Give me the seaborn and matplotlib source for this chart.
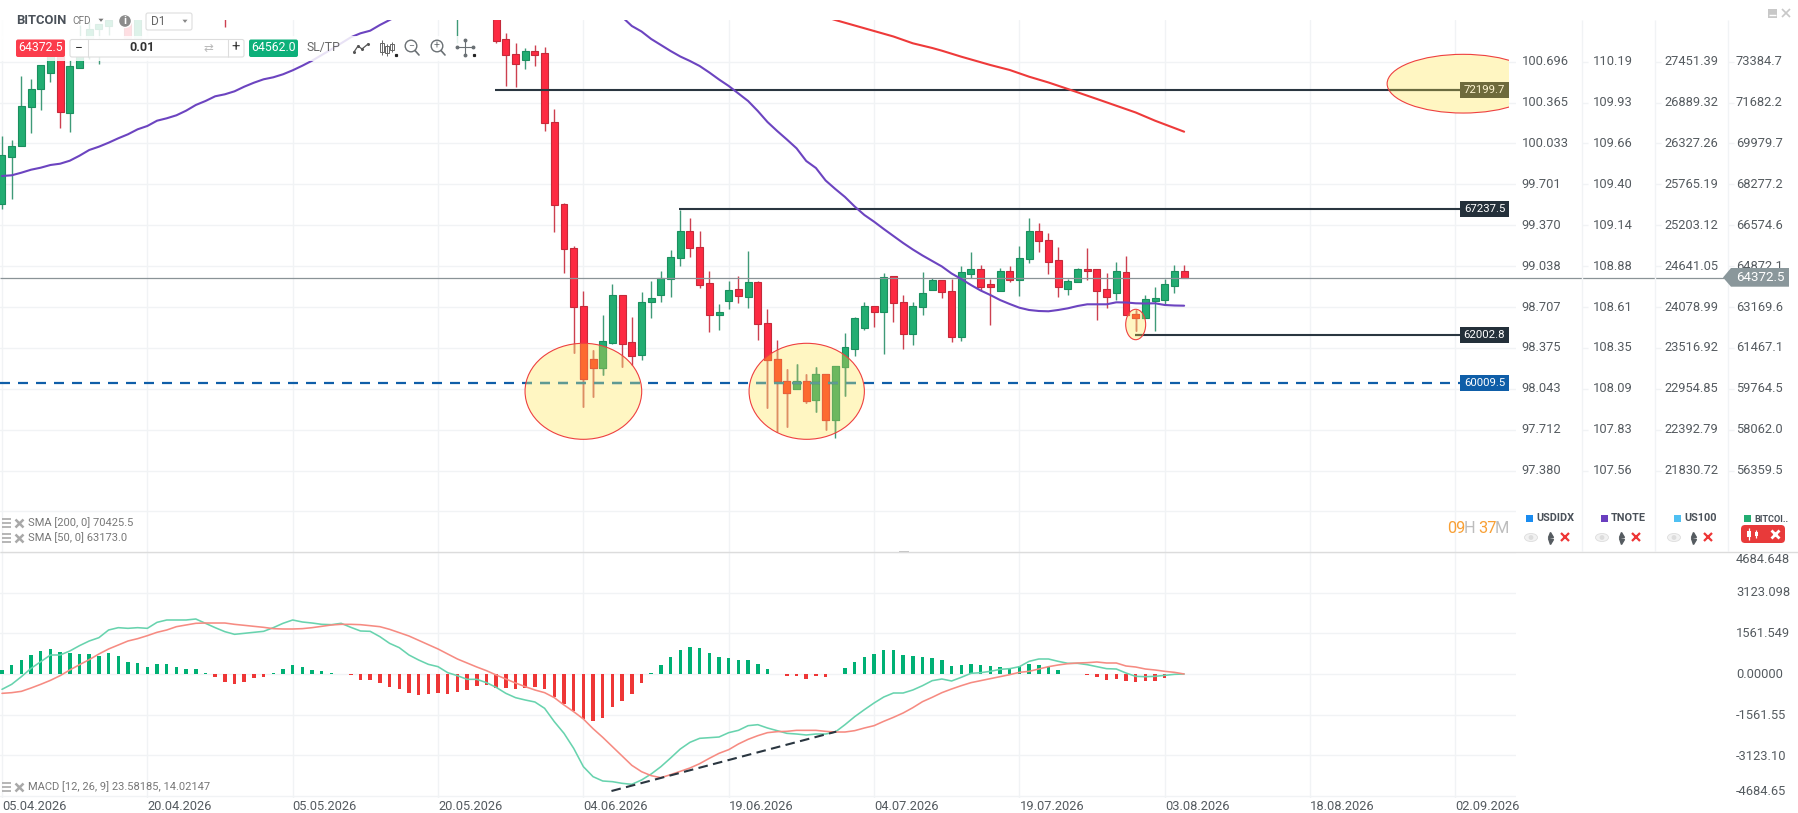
import matplotlib
matplotlib.use('Agg')
import matplotlib.pyplot as plt
from matplotlib.patches import Ellipse, Rectangle, Polygon, Circle, FancyBboxPatch
from matplotlib.transforms import blended_transform_factory
import pandas as pd
import seaborn as sns

W, H = 1798, 813

# candles (days since 05.04.2026), the ones above the visible range are left out
candle_days = [0, 1, 2, 3, 4, 5, 6, 7, 8, 9, 10, 11, 13, 14, 23, 47] + list(range(51, 123))
open_px = [67460, 69429, 69875, 71486, 72235, 72902, 73871, 71236, 73110, 74288, 74733, 74883, 75329, 74359, 75600, 75500,
           75329, 74329, 73692, 73443, 73830, 73734, 70887, 67460, 65641, 63214, 61008, 60621, 61661, 63672, 61703, 61187,
           63368, 63685, 64338, 65212, 66324, 65683, 64172, 62827, 63435, 63909, 63601, 64213, 62519, 61008, 60104, 59759,
           60092, 59301, 60371, 58481, 60687, 61411, 62311, 63202, 62977, 64451, 63381, 62061, 63160, 63893, 64297, 63839,
           61924, 64559, 64755, 64118, 63851, 64684, 64297, 65158, 66324, 65949, 65129, 63934, 64201, 64755, 64767, 63909,
           63743, 64630, 62881, 62702, 63435, 63464, 64059, 64671]
high_px = [70304, 70125, 72789, 72652, 73235, 74288, 74080, 73455, 74912, 75037, 74941, 75204, 75400, 75400, 75700, 75700,
           75400, 74579, 74163, 73955, 74080, 74009, 71415, 67502, 65712, 63851, 61382, 62852, 64130, 63672, 62756, 63809,
           64267, 64684, 65545, 67211, 66890, 66336, 64684, 63310, 64267, 64463, 65504, 64255, 63077, 61799, 60604, 60800,
           60371, 60662, 60371, 60729, 62078, 62744, 63368, 63202, 64575, 64451, 63672, 63393, 64630, 64367, 64297, 64326,
           64879, 65462, 64908, 64326, 64796, 64879, 65712, 66878, 66657, 66241, 65683, 64326, 64809, 65641, 64767, 64588,
           65046, 65283, 63048, 63672, 63993, 64326, 64921, 64921]
low_px = [67252, 67669, 69875, 70429, 71374, 72527, 70612, 70470, 73110, 73484, 73276, 74496, 74359, 74359, 74846, 74163,
          74163, 72385, 72344, 73068, 73205, 70512, 66307, 64600, 61270, 59022, 59438, 60342, 61632, 60687, 60758, 60966,
          62727, 63368, 63601, 64879, 65242, 63964, 62132, 62228, 63089, 63352, 63143, 61799, 58968, 57981, 58189, 59759,
          59164, 58789, 58052, 57707, 59480, 61133, 62228, 62353, 61216, 62536, 61437, 61578, 62852, 63860, 63560, 61716,
          61770, 64367, 63880, 62411, 63826, 64201, 63643, 65017, 65475, 64559, 63601, 63685, 64201, 64284, 62644, 63143,
          63464, 62840, 62186, 62702, 62186, 63256, 63768, 64367]
close_px = [69488, 69888, 71540, 72235, 73235, 73663, 71303, 73205, 73871, 74733, 74941, 75120, 74359, 75329, 75500, 75600,
            74259, 73676, 73301, 73830, 73676, 70845, 67419, 65575, 63160, 60175, 60621, 61745, 63672, 61632, 61133, 63393,
            63535, 64380, 65267, 66324, 65616, 64101, 62827, 62952, 63893, 63643, 64213, 62465, 60966, 60038, 59580, 60092,
            59259, 60371, 58481, 60729, 61520, 62715, 63202, 62964, 64434, 63327, 62061, 63202, 63743, 64297, 63797, 61924,
            64617, 64755, 64018, 64018, 64684, 64297, 65225, 66324, 65933, 65033, 64018, 64255, 64767, 64659, 63851, 63601,
            64671, 62840, 62702, 63493, 63535, 64118, 64671, 64372.5]

sma50_days = list(range(0, 42)) + list(range(64, 123))
sma50 = [68626, 68655, 68764, 68888, 68972, 69084, 69138, 69263, 69471, 69708, 69846, 70012, 70196, 70362, 70570, 70708,
         70928, 71028, 71153, 71345, 71582, 71748, 71944, 72027, 72152, 72344, 72510, 72652, 72735, 72860, 73026, 73218,
         73426, 73663, 73901, 74150, 74400, 74567, 74675, 74912, 75120, 75329,
         75245, 74871, 74642, 74329, 74080, 73830, 73601, 73414, 73205, 72935, 72643, 72373, 72061, 71748, 71332, 70874,
         70499, 70146, 69779, 69251, 68959, 68439, 68085, 67752, 67356, 67003, 66724, 66420, 66128, 65837, 65566, 65317,
         65088, 64859, 64567, 64338, 64088, 63859, 63672, 63464, 63297, 63143, 63048, 63006, 62994, 63048, 63118, 63214,
         63285, 63285, 63285, 63368, 63360, 63327, 63318, 63327, 63256, 63235, 63227]
sma200_days = [85, 86, 88, 90, 92, 94, 96, 97, 99, 102, 104, 106, 108, 110, 113, 117, 119, 122]
sma200 = [75245, 75120, 74891, 74662, 74433, 74150, 73955, 73842, 73593, 73247, 73039, 72760, 72519, 72248, 71832, 71270, 70928, 70470]

macd_days = list(range(123))
macd_hist = [154, 333, 538, 718, 872, 962, 846, 808, 756, 756, 705, 795, 679, 449, 410, 282, 372, 372, 282, 205, 205, 38,
             -115, -295, -372, -295, -167, -115, 26, 205, 346, 256, 167, 115, 26, 13, -26, -218, -218, -346, -513, -590,
             -718, -795, -756, -744, -756, -679, -628, -462, -423, -526, -551, -590, -538, -513, -590, -897, -1167, -1436,
             -1744, -1808, -1705, -1282, -1026, -782, -359, 26, 359, 654, 910, 1038, 1000, 808, 654, 603, 526, 526, 385,
             192, 13, -64, -64, -179, -64, -128, 13, 231, 474, 641, 782, 910, 910, 744, 692, 654, 603, 526, 321, 346, 397,
             359, 321, 269, 244, 308, 372, 359, 282, 154, 13, 0, -38, -115, -218, -205, -282, -321, -282, -282, -141, -38, 13]
macd_line = [-590, -397, -103, 218, 474, 731, 731, 885, 1090, 1269, 1397, 1692, 1782, 1756, 1782, 1756, 1987, 2077, 2077,
             2077, 2115, 1949, 1782, 1628, 1526, 1564, 1603, 1641, 1782, 1949, 2077, 2000, 1961, 1910, 1897, 1949, 1795,
             1654, 1641, 1436, 1179, 1013, 731, 538, 372, 282, 51, -64, -205, -205, -333, -513, -744, -910, -1000, -1077,
             -1320, -1833, -2282, -2859, -3564, -3949, -4115, -4141, -4205, -4243, -4077, -3846, -3564, -3231, -2885, -2628,
             -2474, -2449, -2423, -2256, -2167, -1987, -1949, -2077, -2179, -2282, -2308, -2346, -2308, -2308, -2231, -1949,
             -1641, -1372, -1115, -885, -731, -731, -615, -449, -256, -192, -269, -128, 26, 51, 103, 179, 205, 282, 487, 577,
             577, 487, 410, 410, 359, 282, 205, 192, 38, -90, -103, -90, -51, -13, 0]
signal_line = [-744, -718, -667, -538, -397, -244, -64, 154, 359, 551, 769, 962, 1115, 1269, 1359, 1474, 1603, 1692, 1820,
               1885, 1949, 1961, 1961, 1961, 1910, 1872, 1833, 1795, 1744, 1731, 1731, 1744, 1782, 1833, 1885, 1910, 1910,
               1897, 1859, 1820, 1718, 1590, 1461, 1295, 1128, 962, 769, 577, 423, 269, 128, -38, -192, -346, -487, -615,
               -718, -910, -1192, -1449, -1731, -2103, -2436, -2795, -3154, -3513, -3756, -3910, -3987, -3872, -3743, -3615,
               -3449, -3243, -3051, -2910, -2692, -2513, -2372, -2256, -2218, -2205, -2167, -2167, -2167, -2205, -2231, -2231,
               -2179, -2077, -1987, -1820, -1667, -1500, -1295, -1064, -897, -718, -577, -449, -333, -256, -179, -103, -26,
               64, 103, 192, 282, 346, 397, 423, 436, 462, 423, 423, 308, 269, 192, 154, 103, 64, 0]

date_days = [0, 15, 30, 45, 60, 75, 90, 105, 120, 135, 150]
date_labels = ['05.04.2026', '20.04.2026', '05.05.2026', '20.05.2026', '04.06.2026', '19.06.2026',
               '04.07.2026', '19.07.2026', '03.08.2026', '18.08.2026', '02.09.2026']

btc_ticks = [73384.7, 71682.2, 69979.7, 68277.2, 66574.6, 64872.1, 63169.6, 61467.1, 59764.5, 58062.0, 56359.5]
usdidx_labels = ['100.696', '100.365', '100.033', '99.701', '99.370', '99.038', '98.707', '98.375', '98.043', '97.712', '97.380']
tnote_labels = ['110.19', '109.93', '109.66', '109.40', '109.14', '108.88', '108.61', '108.35', '108.09', '107.83', '107.56']
us100_labels = ['27451.39', '26889.32', '26327.26', '25765.19', '25203.12', '24641.05', '24078.99', '23516.92', '22954.85', '22392.79', '21830.72']
btc_labels = ['73384.7', '71682.2', '69979.7', '68277.2', '66574.6', '64872.1', '63169.6', '61467.1', '59764.5', '58062.0', '56359.5']

macd_grid = [4684.648, 3123.098, 1561.549, 0, -1561.55, -3123.10, -4684.65]
macd_labels = ['4684.648', '3123.098', '1561.549', '0.00000', '-1561.55', '-3123.10', '-4684.65']

last_price = 64372.5
GREEN, GREEN_EDGE, GREEN_WICK = '#22ad72', '#1b8f5f', '#3f9a78'
RED, RED_EDGE, RED_WICK = '#fd2a42', '#c42a3a', '#cc4050'
DARK = '#2a3640'
GRID = '#f1f3f5'
TXT = '#555b60'


def px_axes(x0, y0, x1, y1):
    return fig.add_axes([x0 / W, 1 - y1 / H, (x1 - x0) / W, (y1 - y0) / H])


def draw_candles(ax, up_cols, down_cols, zorder, clip=None):
    for i, d in enumerate(candle_days):
        up = close_px[i] >= open_px[i]
        face, edge, wick = up_cols if up else down_cols
        ln = ax.vlines(d, low_px[i], high_px[i], color=wick, lw=1.0, zorder=zorder)
        bar = ax.bar(d, abs(close_px[i] - open_px[i]), bottom=min(open_px[i], close_px[i]), width=0.72,
                     color=face, edgecolor=edge, lw=0.8, zorder=zorder + 0.1)
        if clip is not None:
            ln.set_clip_path(clip)
            bar[0].set_clip_path(clip)


sns.set_theme(style='white')
plt.rcParams['font.family'] = ['Roboto', 'DejaVu Sans']
plt.rcParams['axes.unicode_minus'] = False

fig = plt.figure(figsize=(W / 100, H / 100), dpi=100, facecolor='white')

x_lim = (-0.206, 156.25)
ax = px_axes(0, 20, 1516, 551.7)
ax_macd = px_axes(0, 552, 1516, 798)

# price panel
ax.set_xlim(x_lim)
ax.set_ylim(52986, 75120)
ax.set_xticks(date_days)
ax.set_yticks(btc_ticks + [54700])
ax.set_xticklabels([])
ax.set_yticklabels([])
ax.grid(True, color=GRID, lw=1.0)
ax.set_axisbelow(True)
ax.tick_params(length=0)
sns.despine(ax=ax, left=True, bottom=True)

yellow = '#fff6c2'
zones = [(60, 59663, 12.04, 3997), (83.05, 59663, 11.9, 3997), (117, 62444, 2.06, 1266), (150.8, 72469, 15.7, 2444)]
clip_rect = Rectangle((-1, 52000), 156.5, 24000, transform=ax.transData)
zone_patches = []
for zx, zy, zw, zh in zones:
    p = Ellipse((zx, zy), zw, zh, facecolor=yellow, edgecolor='none', zorder=1.5)
    ax.add_patch(p)
    p.set_clip_path(clip_rect)
    zone_patches.append(p)

draw_candles(ax, (GREEN, GREEN_EDGE, GREEN_WICK), (RED, RED_EDGE, RED_WICK), 3)
for p in zone_patches[:3]:
    draw_candles(ax, ('#6cb85f', '#62ab5c', '#74a968'), ('#fd6a30', '#e8603a', '#dc9060'), 3.3, clip=p)

sns.lineplot(x=sma50_days, y=sma50, color='#6c44c0', lw=1.5, errorbar=None, ax=ax, zorder=6)
sns.lineplot(x=sma200_days, y=sma200, color='#ee3a3a', lw=1.5, errorbar=None, ax=ax, zorder=6)
ax.set(xlabel='', ylabel='')

x_end = 155.5
ax.hlines(72199.7, 50.9, x_end, color=DARK, lw=1.5, zorder=5)
ax.hlines(67237.5, 69.9, x_end, color=DARK, lw=1.5, zorder=5)
ax.hlines(62002.8, 116.9, x_end, color=DARK, lw=1.5, zorder=5)
ax.hlines(60009.5, -0.206, x_end, color='#0f5ea8', lw=1.6, linestyles=(0, (4.5, 3.6)), zorder=5)
for p in zone_patches[:2]:
    ln = ax.hlines(60009.5, -0.206, x_end, color='#5f9a92', lw=1.6, linestyles=(0, (4.5, 3.6)), zorder=5.1)
    ln.set_clip_path(p)
ln = ax.hlines(72199.7, 50.9, x_end, color='#6b6b3f', lw=1.5, zorder=5.1)
ln.set_clip_path(zone_patches[3])
ln = ax.hlines(62002.8, 116.9, x_end, color='#6b6b3f', lw=1.5, zorder=5.1)
ln.set_clip_path(zone_patches[2])
ax.hlines(last_price, -0.206, 177.7, color='#8a9397', lw=0.9, zorder=4.5, clip_on=False)

for (zx, zy, zw, zh) in zones:
    outline = Ellipse((zx, zy), zw, zh, facecolor='none', edgecolor='#ee4040', lw=0.8, zorder=7)
    ax.add_patch(outline)
    outline.set_clip_path(clip_rect)

# macd panel
hist_frame = pd.DataFrame({'day': macd_days, 'value': macd_hist})
hist_frame['side'] = ['up' if v >= 0 else 'down' for v in macd_hist]
sns.barplot(data=hist_frame, x='day', y='value', hue='side', hue_order=['up', 'down'],
            palette={'up': '#00b074', 'down': '#ee3636'}, dodge=False, native_scale=True, width=0.36, saturation=1,
            linewidth=0, errorbar=None, legend=False, ax=ax_macd, zorder=3)
sns.lineplot(x=macd_days, y=macd_line, color='#68d3ae', lw=1.15, errorbar=None, ax=ax_macd, zorder=4)
sns.lineplot(x=macd_days, y=signal_line, color='#f68b82', lw=1.15, errorbar=None, ax=ax_macd, zorder=4)
ax_macd.plot([62.9, 86.1], [-4500, -2215], color=DARK, lw=1.5, ls=(0, (4.6, 2.6)), zorder=5)
ax_macd.set(xlabel='', ylabel='')
ax_macd.set_xlim(x_lim)
ax_macd.set_ylim(-4769, 4692)
ax_macd.set_xticks(date_days)
ax_macd.set_xticklabels(date_labels, ha='left', fontsize=9.3, color=TXT)
ax_macd.set_yticks(macd_grid)
ax_macd.set_yticklabels([])
ax_macd.grid(True, color=GRID, lw=1.0)
ax_macd.set_axisbelow(True)
ax_macd.tick_params(length=0, axis='both', pad=1.5)
sns.despine(ax=ax_macd, left=True, bottom=True)

# platform furniture, in figure pixels
ui = fig.add_axes([0, 0, 1, 1], zorder=10)
ui.set_xlim(0, W)
ui.set_ylim(H, 0)
ui.axis('off')
ui.patch.set_alpha(0)

to_price = blended_transform_factory(ui.transData, ax.transData)

for column_x in [1582, 1655, 1728]:
    ui.vlines(column_x, 20, 551, color=GRID, lw=1.0, zorder=0)
    ui.hlines(btc_ticks, column_x, column_x + 6, color=GRID, lw=1.0, transform=to_price, zorder=0)

for column_x, labels in zip([1521.7, 1593, 1664.7, 1736], [usdidx_labels, tnote_labels, us100_labels, btc_labels]):
    for tick, label in zip(btc_ticks, labels):
        ui.text(column_x, tick, label, transform=to_price, fontsize=9.3, color=TXT, va='center', ha='left')

macd_label_y = [559.7, 592.7, 633, 674.3, 715.7, 756.7, 791.7]
for y, label in zip(macd_label_y, macd_labels):
    ui.text(1736, y, label, fontsize=9.3, color=TXT, va='center', ha='left')

# line value tags
for level, label, color, tcolor in [(72199.7, '72199.7', '#6e6a3c', '#fff5d0'), (67237.5, '67237.5', '#24303a', 'white'),
                                    (62002.8, '62002.8', '#24303a', 'white'), (60009.5, '60009.5', '#0f5ea8', 'white')]:
    py = (75953 - level) / 41.63
    ui.add_patch(Rectangle((1460, py - 8), 49, 16, facecolor=color, edgecolor='none', zorder=5))
    ui.text(1484.5, py, label, color=tcolor, fontsize=8.2, ha='center', va='center', zorder=6)

ui.add_patch(Polygon([(1723, 277.5), (1731, 268), (1789, 268), (1789, 286.7), (1731, 286.7)], facecolor='#8a979b', edgecolor='none', zorder=5))
ui.text(1760, 277.5, '64372.5', color='white', fontsize=9.6, ha='center', va='center', zorder=6)

# toolbar, it sits over the chart and fades what runs under it
ui.add_patch(Rectangle((0, 20), 200, 19, facecolor='white', alpha=0.85, edgecolor='none'))
ui.add_patch(Rectangle((0, 36), 490, 25, facecolor='white', alpha=0.85, edgecolor='none'))
ui.text(16, 21, 'BITCOIN', fontsize=9.4, fontweight='bold', color='#4a5159', va='center')
ui.text(72, 21, 'CFD', fontsize=7.2, color='#777777', va='center')
ui.add_patch(Polygon([(97, 18), (105, 18), (101, 23)], facecolor='#777777'))
ui.add_patch(Circle((125, 21), 6.5, facecolor='#8c8c8c'))
ui.text(125, 21, 'i', fontsize=8, fontweight='bold', color='white', ha='center', va='center')
ui.add_patch(FancyBboxPatch((146, 13), 46, 17, boxstyle='round,pad=0,rounding_size=2', facecolor='white', edgecolor='#dddddd', lw=0.8))
ui.text(151, 21.5, 'D1', fontsize=8.6, color='#666666', va='center')
ui.add_patch(Polygon([(181, 19), (189, 19), (185, 24)], facecolor='#888888'))

ui.add_patch(FancyBboxPatch((16, 39.5), 49, 17.5, boxstyle='round,pad=0,rounding_size=2', facecolor='#fb3c4c', edgecolor='none'))
ui.text(40.5, 47.5, '64372.5', fontsize=8.8, color='white', ha='center', va='center')
ui.add_patch(FancyBboxPatch((70, 39.5), 174, 17.5, boxstyle='round,pad=0,rounding_size=2', facecolor='white', edgecolor='#dddddd', lw=0.8))
ui.vlines([87.5, 227.5], 39.5, 57, color='#dddddd', lw=0.8)
ui.text(78.5, 47.5, '\u2212', fontsize=10, color='#333333', ha='center', va='center')
ui.text(142, 47.5, '0.01', fontsize=9, fontweight='bold', color='#333333', ha='center', va='center')
ui.text(208, 48, '\u21c4', fontsize=8.5, color='#bbbbbb', ha='center', va='center', family=['DejaVu Sans'])
ui.text(235.5, 47.5, '+', fontsize=10.5, color='#333333', ha='center', va='center')
ui.add_patch(FancyBboxPatch((249, 39.5), 49, 17.5, boxstyle='round,pad=0,rounding_size=2', facecolor='#0db07a', edgecolor='none'))
ui.text(273.5, 47.5, '64562.0', fontsize=8.8, color='white', ha='center', va='center')
ui.text(323, 47.5, 'SL/TP', fontsize=8.8, color='#666666', ha='center', va='center')

icon = '#6a7074'
ui.plot([354, 358, 362, 368], [52, 46, 49, 44], color='#555555', lw=0.9, marker='o', ms=1.2)
for cx, cy0, cy1, by0, by1 in [(382, 40, 55, 43, 52), (387, 44, 56, 46, 53), (392, 42, 52, 44, 50)]:
    ui.vlines(cx, cy0, cy1, color='#666666', lw=0.7)
    ui.add_patch(Rectangle((cx - 1.7, by0), 3.4, by1 - by0, facecolor='white', edgecolor='#666666', lw=0.7))
for cx, sign in [(411, '\u2212'), (437, '+')]:
    ui.add_patch(Circle((cx, 46), 5.8, facecolor='none', edgecolor=icon, lw=1.0))
    ui.plot([cx + 4, cx + 8], [50.5, 55], color=icon, lw=1.2)
    ui.text(cx, 46, sign, fontsize=7.5, color=icon, ha='center', va='center')
ui.plot([457, 473], [47.5, 47.5], color=icon, lw=0.8)
ui.plot([465, 465], [40, 55], color=icon, lw=0.8)
ui.plot([457, 473, 465, 465], [47.5, 47.5, 40, 55], color=icon, lw=0, marker='o', ms=1.8)
ui.plot([396, 474], [55, 55], color='#222222', lw=0, marker='s', ms=1.3)

# window buttons
ui.add_patch(Rectangle((1768, 9), 9, 9, facecolor='#c8c8c8', edgecolor='none'))
ui.hlines(15, 1769, 1776, color='white', lw=1)
ui.plot([1786], [13], color='#c8c8c8', marker='x', ms=6, mew=1.2)

# indicator captions
for y, text in [(523, 'SMA [200, 0] 70425.5'), (538, 'SMA [50, 0] 63173.0'), (787, 'MACD [12, 26, 9] 23.58185, 14.02147')]:
    ui.hlines([y - 4, y, y + 4], 2, 11, color='#a9a9a9', lw=1.2)
    ui.plot([19], [y], color='#a9a9a9', marker='x', ms=5.5, mew=1.8)
    ui.text(28.5, y, text, fontsize=8, color='#777777', va='center')

# countdown
ui.text(1447, 528, '09', fontsize=11.8, color='#f8a035', va='center')
ui.text(1463.5, 528, 'H', fontsize=11.8, color='#bdbdbd', va='center')
ui.text(1478, 528, '37', fontsize=11.8, color='#f8a035', va='center')
ui.text(1495, 528, 'M', fontsize=11.8, color='#bdbdbd', va='center')

# instrument list
instruments = [('USDIDX', '#1a8cf0', 1526, 1531, 1550, 1565), ('TNOTE', '#6a3fbf', 1601, 1602, 1621, 1636), ('US100', '#4fc0f2', 1674, 1674, 1693, 1708)]
for name, color, sq, eye, arrows, cross in instruments:
    ui.add_patch(Rectangle((sq, 514.5), 7, 7, facecolor=color, edgecolor='none'))
    ui.text(sq + 10, 518, name, fontsize=7.8, fontweight='bold', color='#4a5159', va='center')
    ui.add_patch(Ellipse((eye, 537.5), 13, 8, facecolor='#f2f2f2', edgecolor='#dddddd', lw=0.6))
    ui.add_patch(Circle((eye, 537.5), 2.4, facecolor='#dddddd', edgecolor='none'))
    ui.plot([arrows], [534], color='#555b60', marker='^', ms=3.6)
    ui.plot([arrows], [541], color='#555b60', marker='v', ms=3.6)
    ui.plot([cross], [537], color='#ee3636', marker='x', ms=5.5, mew=1.6)
ui.add_patch(Rectangle((1744, 514.5), 7, 7, facecolor='#22ad72', edgecolor='none'))
ui.text(1754, 519, 'BITCOI..', fontsize=6.6, fontweight='bold', color='#4a5159', va='center')
ui.add_patch(FancyBboxPatch((1741, 525), 44, 18, boxstyle='round,pad=0,rounding_size=4', facecolor='#e83a3a', edgecolor='none'))
ui.vlines([1749, 1756], [528, 530], [540, 538], color='white', lw=0.9)
ui.add_patch(Rectangle((1747, 531), 4, 6, facecolor='white', edgecolor='none'))
ui.add_patch(Rectangle((1754.5, 532), 3, 4, facecolor='white', edgecolor='none'))
ui.plot([1775], [534], color='white', marker='x', ms=6, mew=2)

# panel divider
ui.hlines(551.7, 0, W, color='#dcdcdc', lw=1.0)
ui.add_patch(Rectangle((899, 550.5), 10, 2.5, facecolor='#c4c4c4', edgecolor='none'))

fig.savefig('out.png', dpi=100)
